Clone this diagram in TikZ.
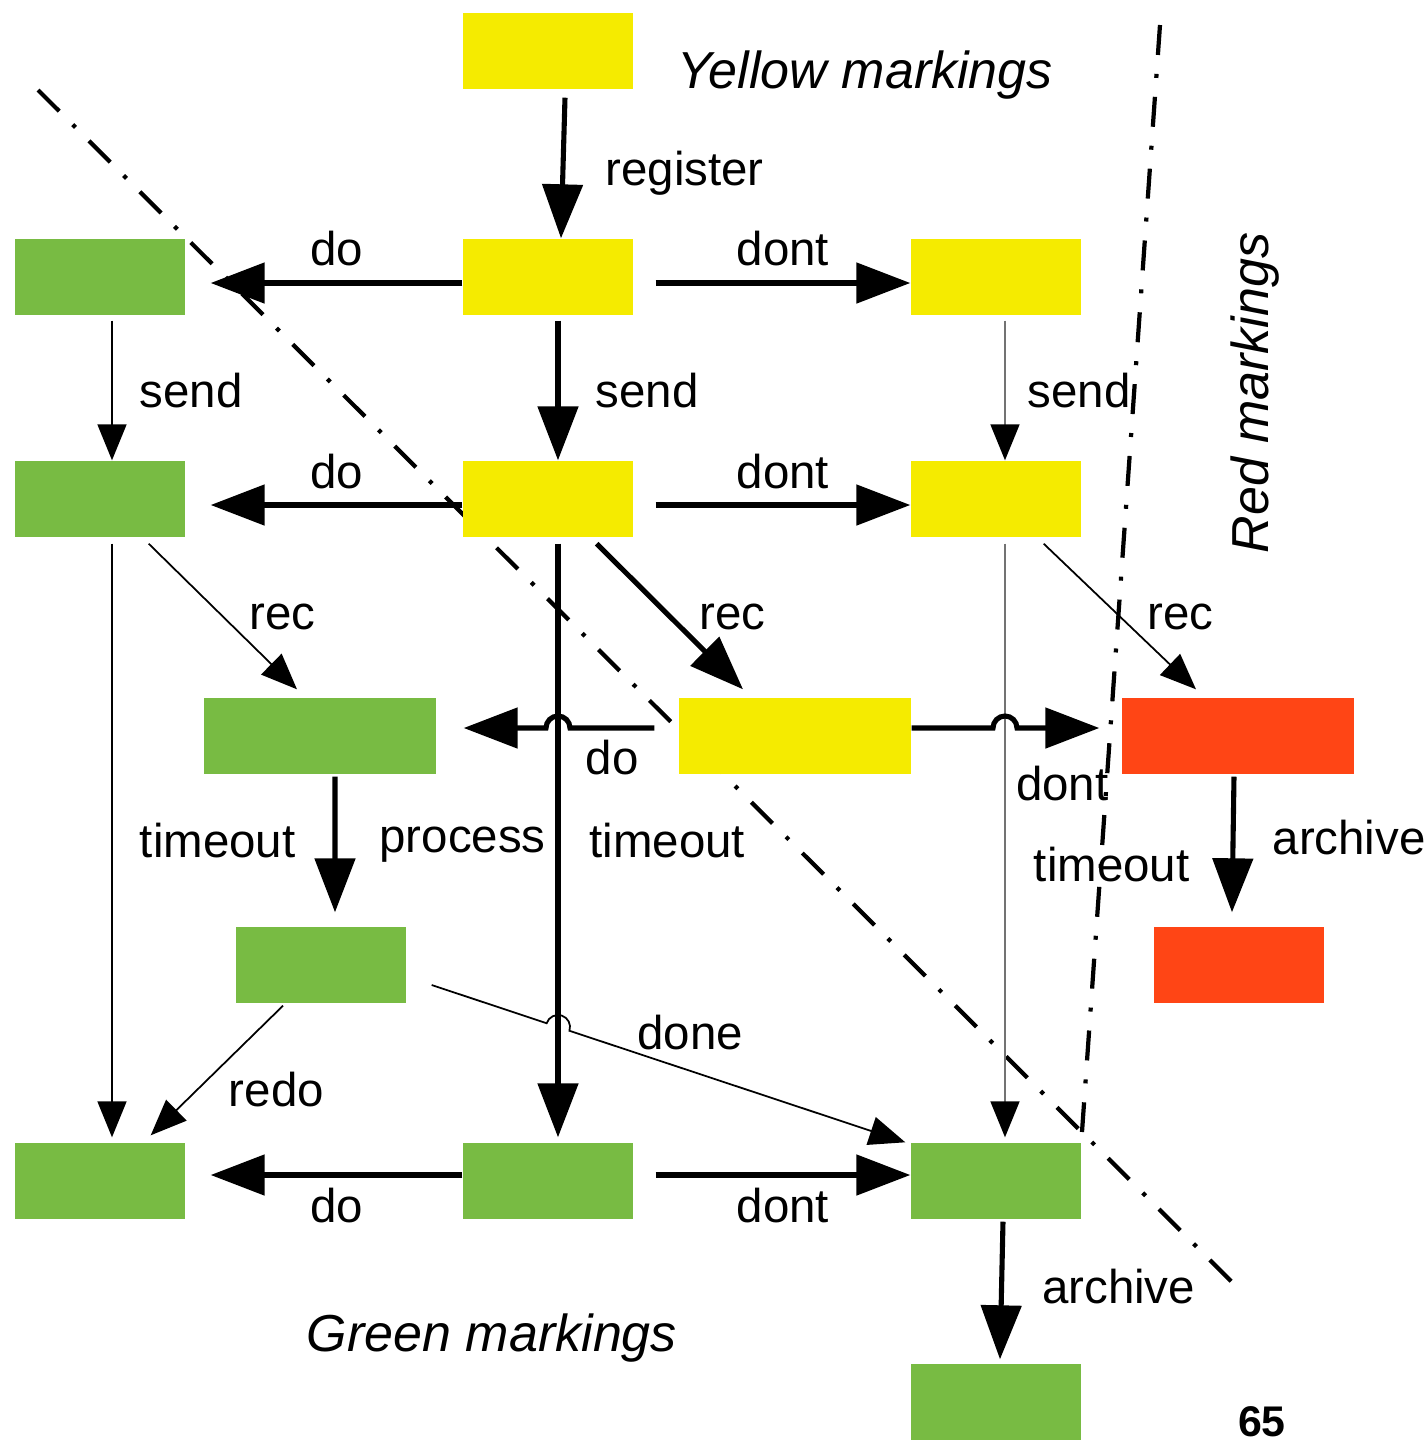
\documentclass[tikz,border=0pt]{standalone}
\usepackage{fontspec}
\setmainfont{Liberation Sans}
\usetikzlibrary{arrows.meta,positioning,calc}

\definecolor{markyellow}{HTML}{F5EB00}
\definecolor{markgreen}{HTML}{78BB43}
\definecolor{markred}{HTML}{FF4515}

\begin{document}
\begin{tikzpicture}[
        font=\fontsize{13.5}{16}\selectfont,
        inner sep=0pt,
        box/.style={rectangle, minimum width=1.70cm, minimum height=0.76cm},
        wide/.style={minimum width=2.32cm},
        ybox/.style={box, fill=markyellow},
        gbox/.style={box, fill=markgreen},
        rbox/.style={box, fill=markred},
        thickarrow/.style={line width=1.45pt, -{Triangle[length=0.54cm, width=0.40cm]}},
        thinarrow/.style={line width=0.5pt, -{Triangle[length=0.36cm, width=0.29cm]}},
        greyarrow/.style={line width=0.5pt, draw=black!55, -{Triangle[length=0.36cm, width=0.29cm, color=black]}},
        border/.style={line width=1.2pt, dash pattern=on 0.30cm off 0.19cm on 0.04cm off 0.19cm},
        title/.style={font=\fontsize{14.8}{18}\selectfont\itshape}
    ]
        \useasboundingbox (0,0) rectangle (14.27,-14.42);

        % Borders of the marking areas
        \coordinate (diagA) at (0.38,-0.90);
        \coordinate (diagB) at (12.36,-12.86);
        \coordinate (vertA) at (11.60,-0.25);
        \coordinate (meet) at (10.82,-11.32);
        \draw[border] (diagA) -- (diagB);
        \draw[border] (vertA) -- (meet);

        % Yellow column
        \node[ybox] (Y0) at (5.48,-0.51) {};
        \node[ybox] (Y1) at (5.48,-2.77) {};
        \node[ybox] (Y3) at (5.48,-4.99) {};
        \node[ybox] (Y2) at (9.96,-2.77) {};
        \node[ybox] (Y4) at (9.96,-4.99) {};
        \node[ybox, wide] (Y5) at (7.95,-7.36) {};

        % Green states
        \node[gbox] (G1) at (1.00,-2.77) {};
        \node[gbox] (G2) at (1.00,-4.99) {};
        \node[gbox, wide] (G3) at (3.20,-7.36) {};
        \node[gbox] (G4) at (3.21,-9.65) {};
        \node[gbox] (G5) at (1.00,-11.81) {};
        \node[gbox] (G6) at (5.48,-11.81) {};
        \node[gbox] (G7) at (9.96,-11.81) {};
        \node[gbox] (G8) at (9.96,-14.02) {};

        % Red states
        \node[rbox, wide] (R1) at (12.38,-7.36) {};
        \node[rbox] (R2) at (12.39,-9.65) {};

        % Area titles
        \node[title] (ytitle) at (8.65,-0.75) {Yellow markings};
        \node[title, rotate=90] (rtitle) at (12.55,-3.93) {Red markings};
        \node[title] (gtitle) at (4.92,-13.38) {Green markings};
        \node[font=\fontsize{12.2}{14}\selectfont\bfseries] (page) at (12.62,-14.22) {65};

        % Register
        \draw[thickarrow] ([xshift=0.17cm,yshift=-0.08cm]Y0.south) -- node[right=0.40cm, yshift=-0.05cm] {register} ([xshift=0.13cm]Y1.north);

        % First row
        \draw[thickarrow] ([yshift=-0.06cm]Y1.west) -- node[above=0.15cm] {do} ([xshift=0.25cm,yshift=-0.06cm]G1.east);
        \draw[thickarrow] ([xshift=0.22cm,yshift=-0.06cm]Y1.east) -- node[above=0.15cm] {dont} ([yshift=-0.06cm]Y2.west);

        % Send
        \draw[thinarrow] ([xshift=0.12cm,yshift=-0.05cm]G1.south) -- node[right=0.27cm] {send} ([xshift=0.12cm]G2.north);
        \draw[thickarrow] ([xshift=0.10cm,yshift=-0.05cm]Y1.south) -- node[right=0.35cm] {send} ([xshift=0.10cm]Y3.north);
        \draw[greyarrow] ([xshift=0.09cm,yshift=-0.05cm]Y2.south) -- node[right=0.22cm] {send} ([xshift=0.09cm]Y4.north);

        % Second row
        \draw[thickarrow] ([yshift=-0.06cm]Y3.west) -- node[above=0.14cm] {do} ([xshift=0.25cm,yshift=-0.06cm]G2.east);
        \draw[thickarrow] ([xshift=0.22cm,yshift=-0.06cm]Y3.east) -- node[above=0.14cm] {dont} ([yshift=-0.06cm]Y4.west);

        % Receive
        \draw[thinarrow] ([xshift=-0.37cm,yshift=-0.06cm]G2.south east) -- node[right=0.26cm] {rec} ([xshift=-0.23cm,yshift=0.08cm]G3.north);
        \draw[thickarrow] ([xshift=-0.37cm,yshift=-0.06cm]Y3.south east) -- node[right=0.27cm] {rec} ([xshift=-0.52cm,yshift=0.08cm]Y5.north);
        \draw[thinarrow] ([xshift=-0.38cm,yshift=-0.06cm]Y4.south east) -- node[right=0.27cm] {rec} ([xshift=-0.42cm,yshift=0.08cm]R1.north);

        % Timeouts
        \coordinate (vtop) at ([xshift=0.10cm,yshift=-0.06cm]Y3.south);
        \coordinate (vbot) at ([xshift=0.10cm,yshift=0.05cm]G6.north);
        \coordinate (gtop) at ([xshift=0.09cm,yshift=-0.06cm]Y4.south);
        \draw[thinarrow] ([xshift=0.12cm,yshift=-0.06cm]G2.south) -- node[right=0.27cm] {timeout} ([xshift=0.12cm,yshift=0.05cm]G5.north);
        \draw[thickarrow] (vtop) -- node[right=0.29cm] {timeout} (vbot);
        \draw[greyarrow] (gtop) -- node[pos=0.54, right=0.28cm] {timeout} ([xshift=0.09cm,yshift=0.05cm]G7.north);

        % Third row, hopping over the timeouts
        \coordinate (dostart) at ([xshift=-0.24cm,yshift=0.08cm]Y5.west);
        \coordinate (dontstart) at ([yshift=0.08cm]Y5.east);
        \draw[thickarrow] (dostart) -- node[below=0.10cm] {do} ($(vtop |- dostart)+(0.12,0)$)
            arc[start angle=0, end angle=180, radius=0.12cm] -- ([xshift=0.27cm,yshift=0.08cm]G3.east);
        \draw[thickarrow] (dontstart) -- ($(gtop |- dontstart)+(-0.12,0)$)
            arc[start angle=180, end angle=0, radius=0.12cm] -- node[pos=0.55, below=0.36cm] {dont} ([xshift=-0.22cm,yshift=0.08cm]R1.west);

        % Process and archive
        \draw[thickarrow] ([xshift=0.15cm,yshift=-0.02cm]G3.south) -- node[pos=0.50, right=0.42cm] {process} ([xshift=0.14cm,yshift=0.14cm]G4.north);
        \draw[thickarrow] ([xshift=-0.04cm,yshift=-0.02cm]R1.south) -- node[pos=0.45, right=0.37cm] {archive} ([xshift=-0.07cm,yshift=0.14cm]R2.north);
        \draw[thickarrow] ([xshift=0.07cm,yshift=-0.02cm]G7.south) -- node[pos=0.47, right=0.38cm] {archive} ([xshift=0.04cm,yshift=0.04cm]G8.north);

        % Done and redo
        \coordinate (doneA) at ([xshift=0.25cm,yshift=-0.20cm]G4.east);
        \coordinate (doneB) at ([xshift=-0.05cm]G7.north west);
        \coordinate (donex) at (intersection of doneA--doneB and vtop--vbot);
        \draw[thinarrow] (doneA) -- ($(donex)!0.12cm!(doneA)$)
            arc[start angle=161.7, end angle=-18.3, radius=0.12cm] -- node[pos=0.36, above=0.2cm] {done} (doneB);
        \draw[thinarrow] ([xshift=-0.38cm,yshift=-0.02cm]G4.south) -- node[pos=0.65, right=0.31cm] {redo} ([xshift=-0.35cm,yshift=0.07cm]G5.north east);

        % Bottom row
        \draw[thickarrow] ([yshift=0.06cm]G6.west) -- node[below=0.11cm] {do} ([xshift=0.25cm,yshift=0.06cm]G5.east);
        \draw[thickarrow] ([xshift=0.22cm,yshift=0.06cm]G6.east) -- node[below=0.11cm] {dont} ([yshift=0.06cm]G7.west);
    \end{tikzpicture}
\end{document}
